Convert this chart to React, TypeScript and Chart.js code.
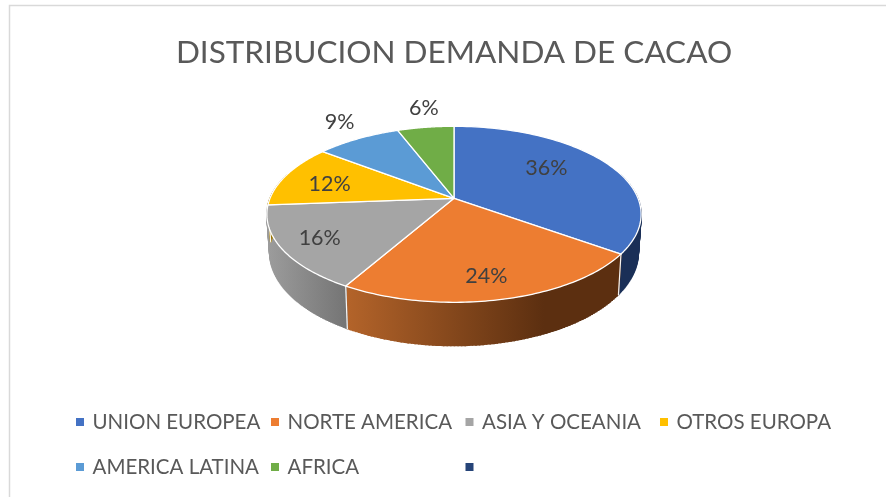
import React, { useEffect, useRef } from "react";
import { Chart, registerables } from "chart.js";

Chart.register(...registerables);

const titleText = "DISTRIBUCION DEMANDA DE CACAO";
const categories = ["UNION EUROPEA", "NORTE AMERICA", "ASIA Y OCEANIA", "OTROS EUROPA", "AMERICA LATINA", "AFRICA", ""];
const values = [36, 24, 16, 12, 9, 6, 0];
const colors = ["#4472C4", "#ED7D31", "#A5A5A5", "#FFC000", "#5B9BD5", "#70AD47", "#264478"];

// Wall shading per slice: [left colour, right colour]
const wallShades = [
  ["#1a2f57", "#1a2f57"],
  ["#b4642a", "#5c2f10"],
  ["#9c9c9c", "#757575"],
  ["#997300", "#997300"],
  ["#2e75b6", "#2e75b6"],
  ["#43682b", "#43682b"],
  ["#264478", "#264478"],
];
// Label placement relative to the slice middle: [radius factor, angle shift in degrees]
const labelPlacement = [
  [0.655, -8], [0.8, 1.4], [0.8, -0.5], [0.717, -2.9], [1.3, 1.9], [1.325, 1.7], [0, 0],
];
// Legend grid
const legendCols = [76, 271, 465.5, 660];
const legendRows = [422, 467];

const FONT = "Lato, Carlito, sans-serif";
const geo = { cx: 454, cy: 198.3, R: 184, S: 85.1, k: 0.1818 };

function project(a: number, r = 1) {
  const u = r * Math.cos(a);
  const v = r * Math.sin(a);
  const d = 1 - geo.k * v;
  return { x: geo.cx + (geo.R * u) / d, y: geo.cy + (geo.S * v) / d };
}
function projectBottom(a: number) {
  const p = project(a);
  const v = Math.sin(a);
  return { x: geo.cx + (p.x - geo.cx) * 0.985, y: p.y + 30 + 7 * (v + 1) };
}

const frame = {
  id: "frame",
  beforeDraw(chart: any) {
    const { ctx, width, height } = chart;
    ctx.save();
    ctx.fillStyle = "#ffffff";
    ctx.fillRect(0, 0, width, height);
    ctx.strokeStyle = "#d9d9d9";
    ctx.lineWidth = 1.5;
    ctx.beginPath();
    ctx.moveTo(9.5, height);
    ctx.lineTo(9.5, 5.5);
    ctx.lineTo(width, 5.5);
    ctx.stroke();
    ctx.restore();
  },
};

const pie3d = {
  id: "pie3d",
  beforeDatasetDraw(chart: any, args: any) {
    const { ctx } = chart;
    const arcs = args.meta.data;
    ctx.save();
    // walls
    const lo = -0.3;
    const hi = Math.PI + 0.3;
    arcs.forEach((arc: any, i: number) => {
      const s = Math.max(arc.startAngle, lo);
      const e = Math.min(arc.endAngle, hi);
      if (e <= s) return;
      const n = 90;
      const top = [];
      const bot = [];
      for (let j = 0; j <= n; j++) {
        const a = s + ((e - s) * j) / n;
        top.push(project(a));
        bot.push(projectBottom(a));
      }
      const frontA = Math.max(Math.min(arc.endAngle, Math.PI), 0);
      const startA = Math.min(Math.max(arc.startAngle, 0), Math.PI);
      const xs = [project(startA).x, project(frontA).x];
      const g = ctx.createLinearGradient(Math.min(...xs), 0, Math.max(...xs), 0);
      if (i === 1) {
        // orange wall reaches its darkest tone before its right end
        g.addColorStop(0, wallShades[i][0]);
        g.addColorStop(0.72, wallShades[i][1]);
        g.addColorStop(1, wallShades[i][1]);
      } else {
        g.addColorStop(0, wallShades[i][0]);
        g.addColorStop(1, wallShades[i][1]);
      }
      ctx.fillStyle = g;
      ctx.strokeStyle = g;
      ctx.lineWidth = 1.5;
      ctx.beginPath();
      top.forEach((p, j) => (j ? ctx.lineTo(p.x, p.y) : ctx.moveTo(p.x, p.y)));
      [...bot].reverse().forEach((p) => ctx.lineTo(p.x, p.y));
      ctx.closePath();
      ctx.fill();
      // ribs sweep the rim down so the silhouette is complete
      ctx.lineWidth = 1.5;
      top.forEach((p, j) => {
        ctx.beginPath();
        ctx.moveTo(p.x, p.y);
        ctx.lineTo(bot[j].x, bot[j].y);
        ctx.stroke();
      });
    });
    // separators on the front wall
    arcs.forEach((arc: any) => {
      const a = arc.endAngle;
      if (a > 0 && a < Math.PI) {
        const p = project(a);
        const b = projectBottom(a);
        ctx.strokeStyle = "rgba(255,255,255,0.95)";
        ctx.lineWidth = 1.2;
        ctx.beginPath();
        ctx.moveTo(p.x, p.y);
        ctx.lineTo(b.x, b.y);
        ctx.stroke();
      }
    });
    // top faces
    arcs.forEach((arc: any, i: number) => {
      if (arc.endAngle - arc.startAngle <= 0) return;
      const n = 80;
      ctx.beginPath();
      ctx.moveTo(geo.cx, geo.cy);
      for (let j = 0; j <= n; j++) {
        const p = project(arc.startAngle + ((arc.endAngle - arc.startAngle) * j) / n);
        ctx.lineTo(p.x, p.y);
      }
      ctx.closePath();
      ctx.fillStyle = colors[i];
      ctx.fill();
      ctx.strokeStyle = "#ffffff";
      ctx.lineWidth = 1.3;
      ctx.lineJoin = "round";
      ctx.stroke();
    });
    // value labels
    ctx.font = `21.5px ${FONT}`;
    ctx.fillStyle = "#404040";
    ctx.textAlign = "center";
    ctx.textBaseline = "middle";
    arcs.forEach((arc: any, i: number) => {
      if (!values[i]) return;
      const [r, da] = labelPlacement[i];
      const mid = (arc.startAngle + arc.endAngle) / 2 + (da * Math.PI) / 180;
      const p = project(mid, r);
      ctx.fillText(`${values[i]}%`, p.x, p.y);
    });
    ctx.restore();
    return false;
  },
};

const gridLegend = {
  id: "gridLegend",
  afterDraw(chart: any) {
    const { ctx } = chart;
    ctx.save();
    ctx.font = `20.5px ${FONT}`;
    ctx.textBaseline = "middle";
    ctx.textAlign = "left";
    categories.forEach((label, i) => {
      const x = legendCols[i % 4];
      const y = legendRows[Math.floor(i / 4)];
      ctx.fillStyle = colors[i];
      ctx.fillRect(x, y - 4, 8, 8);
      if (label) {
        ctx.fillStyle = "#595959";
        ctx.fillText(label, x + 16.5, y);
      }
    });
    ctx.restore();
  },
};

export default function App() {
  const ref = useRef<HTMLCanvasElement>(null);
  useEffect(() => {
    document.body.style.margin = "0";
    const chart = new Chart(ref.current!, {
      type: "pie",
      data: {
        labels: categories,
        datasets: [{ data: values, backgroundColor: colors }],
      },
      options: {
        animation: false,
        responsive: false,
        layout: { padding: { left: 22, top: 34, bottom: 100, right: 0 } },
        plugins: {
          legend: { display: false },
          tooltip: { enabled: false },
          title: {
            display: true,
            text: titleText,
            color: "#595959",
            font: { family: FONT, size: 31.5, weight: "normal" },
            padding: { top: 0, bottom: 0 },
          },
        },
      },
      plugins: [frame, pie3d, gridLegend],
    } as any);
    return () => chart.destroy();
  }, []);
  return <canvas ref={ref} width={886} height={497} style={{ display: "block" }} />;
}
